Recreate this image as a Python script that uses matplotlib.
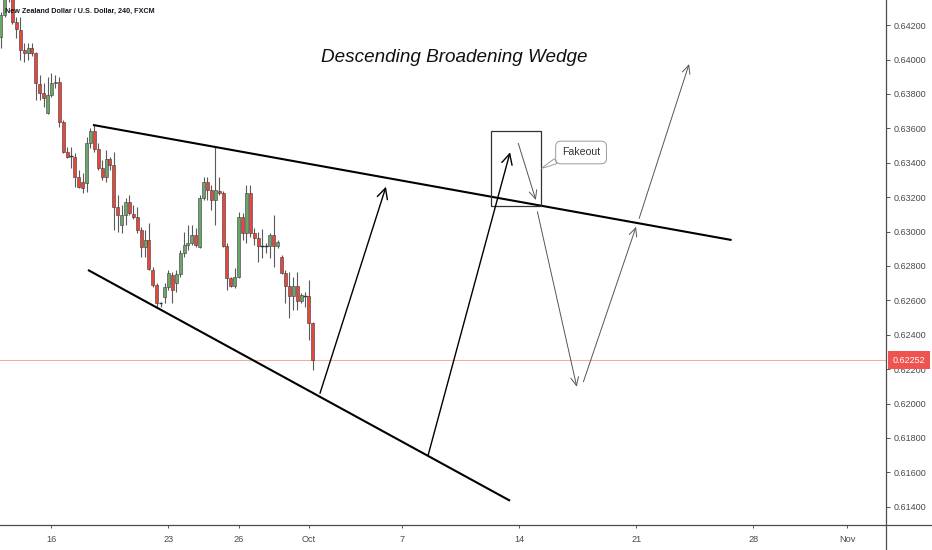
import matplotlib
matplotlib.use("Agg")
import matplotlib.pyplot as plt
import matplotlib.transforms as mtransforms
from matplotlib.lines import Line2D
from matplotlib.patches import Rectangle
import pandas as pd

# NZD/USD 4h candles (FXCM), oldest first
opens = [0.64131, 0.64259, 0.64358, 0.64376, 0.64219, 0.64172, 0.64056, 0.64038, 0.64067, 0.64038,
         0.63858, 0.63806, 0.63690, 0.63794, 0.63864, 0.63869, 0.63637, 0.63463, 0.63440, 0.63434,
         0.63318, 0.63288, 0.63283, 0.63515, 0.63585, 0.63480, 0.63370, 0.63318, 0.63422, 0.63387,
         0.63143, 0.63038, 0.63097, 0.63172, 0.63102, 0.63085, 0.63009, 0.62911, 0.62951, 0.62777,
         0.62690, 0.62585, 0.62620, 0.62678, 0.62748, 0.62701, 0.62754, 0.62876, 0.62922, 0.62934,
         0.62980, 0.62911, 0.63195, 0.63288, 0.63242, 0.63184, 0.63236, 0.63226, 0.62916, 0.62730,
         0.62684, 0.62736, 0.63085, 0.62992, 0.63226, 0.62992, 0.62963, 0.62916, 0.62916, 0.62916,
         0.62980, 0.62916, 0.62852, 0.62759, 0.62684, 0.62626, 0.62684, 0.62597, 0.62626, 0.62626,
         0.62469]
highs = [0.64277, 0.64381, 0.64405, 0.64393, 0.64248, 0.64248, 0.64097, 0.64097, 0.64097, 0.64044,
         0.63910, 0.63864, 0.63899, 0.63922, 0.63910, 0.63899, 0.63649, 0.63492, 0.63492, 0.63457,
         0.63358, 0.63341, 0.63550, 0.63602, 0.63626, 0.63515, 0.63416, 0.63474, 0.63434, 0.63463,
         0.63213, 0.63155, 0.63195, 0.63213, 0.63155, 0.63143, 0.63027, 0.63009, 0.63050, 0.62794,
         0.62701, 0.62591, 0.62701, 0.62777, 0.62765, 0.62777, 0.62893, 0.62998, 0.63038, 0.63038,
         0.63021, 0.63213, 0.63318, 0.63318, 0.63271, 0.63492, 0.63318, 0.63236, 0.62934, 0.62736,
         0.62788, 0.63114, 0.63108, 0.63271, 0.63271, 0.63021, 0.62998, 0.63015, 0.62934, 0.62992,
         0.63097, 0.62951, 0.62864, 0.62777, 0.62765, 0.62736, 0.62765, 0.62643, 0.62649, 0.62719,
         0.62475]
lows = [0.64067, 0.64248, 0.64335, 0.64207, 0.64126, 0.63998, 0.63986, 0.63998, 0.64021, 0.63765,
        0.63765, 0.63724, 0.63684, 0.63783, 0.63835, 0.63608, 0.63457, 0.63428, 0.63370, 0.63259,
        0.63254, 0.63226, 0.63230, 0.63486, 0.63463, 0.63358, 0.63300, 0.63288, 0.63358, 0.63009,
        0.62998, 0.62992, 0.63038, 0.63097, 0.63073, 0.62992, 0.62852, 0.62852, 0.62777, 0.62678,
        0.62562, 0.62562, 0.62585, 0.62661, 0.62585, 0.62649, 0.62736, 0.62852, 0.62893, 0.62922,
        0.62911, 0.62905, 0.63184, 0.63184, 0.63126, 0.63038, 0.63213, 0.62911, 0.62661, 0.62678,
        0.62672, 0.62730, 0.62951, 0.62934, 0.62969, 0.62922, 0.62823, 0.62846, 0.62876, 0.62846,
        0.62794, 0.62905, 0.62754, 0.62585, 0.62498, 0.62545, 0.62545, 0.62585, 0.62562, 0.62370,
        0.62195]
closes = [0.64259, 0.64358, 0.64381, 0.64219, 0.64178, 0.64056, 0.64038, 0.64067, 0.64038, 0.63864,
          0.63806, 0.63777, 0.63794, 0.63864, 0.63869, 0.63637, 0.63463, 0.63434, 0.63440, 0.63318,
          0.63259, 0.63254, 0.63515, 0.63585, 0.63480, 0.63370, 0.63318, 0.63422, 0.63387, 0.63143,
          0.63097, 0.63097, 0.63172, 0.63108, 0.63085, 0.63009, 0.62911, 0.62951, 0.62782, 0.62690,
          0.62585, 0.62585, 0.62678, 0.62759, 0.62661, 0.62754, 0.62876, 0.62922, 0.62934, 0.62980,
          0.62922, 0.63195, 0.63288, 0.63242, 0.63184, 0.63242, 0.63226, 0.62916, 0.62730, 0.62684,
          0.62736, 0.63085, 0.62992, 0.63226, 0.62992, 0.62963, 0.62916, 0.62916, 0.62916, 0.62980,
          0.62916, 0.62940, 0.62759, 0.62684, 0.62626, 0.62684, 0.62597, 0.62632, 0.62626, 0.62469,
          0.62252]
last_price = 0.62252

# axis labels
date_ticks = ["2019-09-16", "2019-09-23", "2019-09-26", "2019-10-01", "2019-10-07",
              "2019-10-14", "2019-10-21", "2019-10-28", "2019-11-01"]
date_labels = ["16", "23", "26", "Oct", "7", "14", "21", "28", "Nov"]
price_ticks = [0.614, 0.616, 0.618, 0.620, 0.622, 0.624, 0.626, 0.628,
               0.630, 0.632, 0.634, 0.636, 0.638, 0.640, 0.642]
price_labels = ["0.61400", "0.61600", "0.61800", "0.62000", "0.62200", "0.62400", "0.62600",
                "0.62800", "0.63000", "0.63200", "0.63400", "0.63600", "0.63800", "0.64000",
                "0.64200"]

# bar calendar: six 4h bars per weekday, bar 0 is the last bar of 11 Sep
BARS_PER_DAY = 6
trading_days = pd.bdate_range("2019-09-11", "2019-11-08")
day_start = {d: BARS_PER_DAY * j - (BARS_PER_DAY - 1) for j, d in enumerate(trading_days)}
tick_pos = [day_start[pd.Timestamp(t)] for t in date_ticks]
bar_x = list(range(len(opens)))

SANS = "Liberation Sans"
W, H = 932, 550
fig = plt.figure(figsize=(W / 100, H / 100), dpi=100)
ax = fig.add_axes([0, 25 / H, 886 / W, 525 / H])
ax.set_xlim(-0.19, 226.99)
ax.set_ylim(0.612941, 0.643465)
for s in ax.spines.values():
    s.set_visible(False)

# candles
UP, DOWN, DOJI = "#6aa56a", "#e5473c", "#333333"
for x, o, h, l, c in zip(bar_x, opens, highs, lows, closes):
    ax.vlines(x, l, h, color="#5a5a5a", lw=0.8, zorder=2)
    if abs(c - o) < 1e-7:
        ax.hlines(o, x - 0.4, x + 0.4, color=DOJI, lw=1.0, zorder=3)
        continue
    col = UP if c > o else DOWN
    ax.add_patch(Rectangle((x - 0.38, min(o, c)), 0.76, abs(c - o),
                           facecolor=col, edgecolor="#3a3a3a", lw=0.4, zorder=3))

# last price line
ax.axhline(last_price, color="#f4a7a3", lw=0.7, zorder=1)

# wedge boundaries
upper_line = [(23.65, 0.63620), (187.4, 0.62951)]
lower_line = [(22.37, 0.62777), (130.6, 0.61435)]
for (x0, y0), (x1, y1) in (upper_line, lower_line):
    ax.plot([x0, x1], [y0, y1], color="black", lw=1.5, solid_capstyle="butt", zorder=4)

def arrow(start, end, color, lw, hl, hw):
    ax.annotate("", xy=end, xytext=start,
                arrowprops=dict(arrowstyle=f"->,head_length={hl},head_width={hw}",
                                color=color, lw=lw, shrinkA=0, shrinkB=0),
                zorder=5)

# projected moves
arrow((81.86, 0.62060), (98.78, 0.63261), "black", 1.0, 0.75, 0.38)
arrow((109.6, 0.61701), (130.6, 0.63461), "black", 1.0, 0.75, 0.38)
arrow((132.7, 0.63513), (137.2, 0.63184), "#555555", 0.7, 0.6, 0.28)
arrow((137.6, 0.63116), (147.7, 0.62098), "#555555", 0.7, 0.6, 0.28)
arrow((149.4, 0.62127), (162.9, 0.63028), "#555555", 0.7, 0.6, 0.28)
arrow((163.7, 0.63077), (176.5, 0.63974), "#555555", 0.7, 0.6, 0.28)

# breakout box
ax.add_patch(Rectangle((125.7, 0.63147), 138.65 - 125.7, 0.63585 - 0.63147,
                       facecolor="none", edgecolor="#333333", lw=0.9, zorder=4))

# callout
ax.annotate("Fakeout", xy=(138.7, 0.63368), xytext=(148.8, 0.63460),
            ha="center", va="center", fontsize=7.6, color="#333333",
            family=SANS,
            bbox=dict(boxstyle="round,pad=0.6,rounding_size=0.5", fc="white",
                      ec="#9a9a9a", lw=0.7),
            arrowprops=dict(arrowstyle="wedge,tail_width=0.5,shrink_factor=0.6",
                            fc="white", ec="#9a9a9a", lw=0.7,
                            shrinkA=0, shrinkB=0, relpos=(0.1, 0.15)),
            zorder=6)

# title and symbol line
ax.text(454 / 886, 1 - 57 / 525, "Descending Broadening Wedge", transform=ax.transAxes,
        ha="center", va="center", fontsize=13.6, style="italic",
        family=SANS, color="#111111", zorder=6)
ax.text(5 / 886, 1 - 11 / 525, "New Zealand Dollar / U.S. Dollar, 240, FXCM",
        transform=ax.transAxes, ha="left", va="center", fontsize=5.2,
        family=SANS, fontweight="bold", color="#131722", zorder=7)

# price axis on the right
ax.yaxis.tick_right()
ax.set_yticks(price_ticks, price_labels)
ax.tick_params(axis="y", length=3, width=0.7, color="#555555", pad=2.5,
               labelsize=6.5, labelcolor="#4a4a4a", direction="out")
for lab in ax.get_yticklabels():
    lab.set_family(SANS)

# time axis
ax.set_xticks(tick_pos, date_labels)
ax.tick_params(axis="x", length=2.5, width=0.7, color="#555555", pad=4.5,
               labelsize=6.6, labelcolor="#4a4a4a", direction="out")
for lab in ax.get_xticklabels():
    lab.set_family(SANS)

# last price tag
tag_tf = mtransforms.blended_transform_factory(ax.transAxes, ax.transData)
ax.text(1 + 7 / 886, last_price, f"{last_price:.5f}", transform=tag_tf,
        ha="left", va="center", fontsize=6.5, color="white", family=SANS,
        bbox=dict(boxstyle="square,pad=0.5", fc="#ef5350", ec="none"),
        clip_on=False, zorder=10)

# chart frame lines (time axis and price axis separators)
fig.add_artist(Line2D([0, 1], [25 / H, 25 / H], transform=fig.transFigure,
                      color="#4d4d4d", lw=0.9))
fig.add_artist(Line2D([886 / W, 886 / W], [0, 1], transform=fig.transFigure,
                      color="#4d4d4d", lw=0.9))

fig.savefig("out.png", dpi=100, facecolor="white")
